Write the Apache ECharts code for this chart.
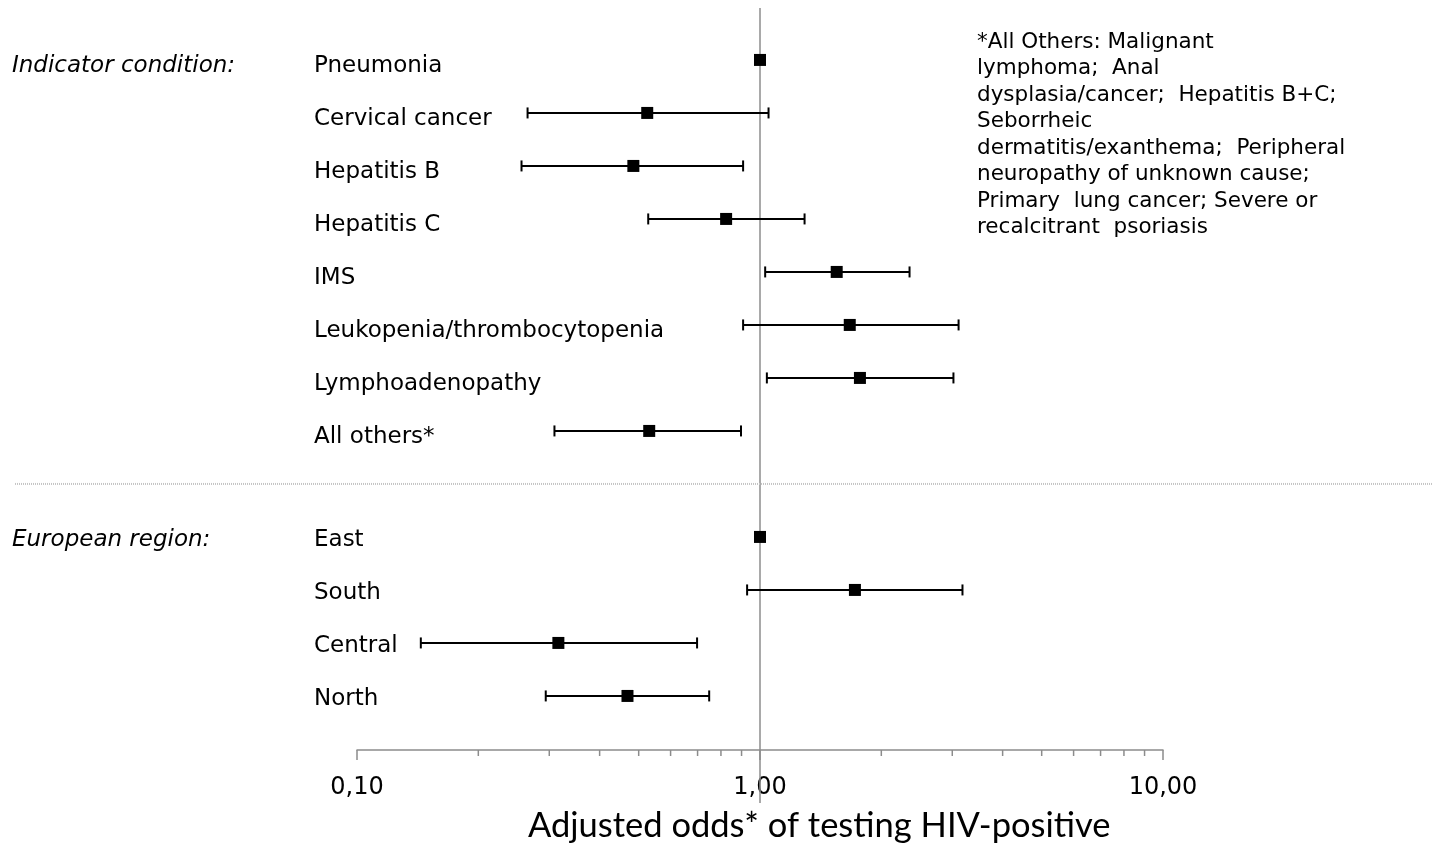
<!DOCTYPE html>
<html><head><meta charset="utf-8">
<script src="https://cdn.jsdelivr.net/npm/echarts/dist/echarts.min.js"></script>
<style>html,body{margin:0;padding:0;background:#fff}#c{width:1439px;height:843px}</style>
</head><body><div id="c"></div>
<script>
// ---- data ----
const rowLabels = ['Pneumonia', 'Cervical cancer', 'Hepatitis B', 'Hepatitis C', 'IMS',
  'Leukopenia/thrombocytopenia', 'Lymphoadenopathy', 'All others*', '',
  'East', 'South', 'Central', 'North'];
const oddsRatio = [1.00, 0.525, 0.485, 0.824, 1.55, 1.67, 1.77, 0.531, null, 1.00, 1.72, 0.316, 0.469];
const ciLower   = [null, 0.265, 0.256, 0.528, 1.03, 0.908, 1.04, 0.309, null, null, 0.929, 0.144, 0.294];
const ciUpper   = [null, 1.05, 0.908, 1.29, 2.35, 3.11, 3.02, 0.897, null, null, 3.18, 0.698, 0.748];
const sectionTitles = ['Indicator condition:', 'European region:'];
const sectionRows = [0, 9];
const separatorRow = 8;
const referenceValue = 1;
const xMinorTicks = [0.2, 0.3, 0.4, 0.5, 0.6, 0.7, 0.8, 0.9, 2, 3, 4, 5, 6, 7, 8, 9];
const noteLines = ['*All Others: Malignant', 'lymphoma;  Anal', 'dysplasia/cancer;  Hepatitis B+C;',
  'Seborrheic', 'dermatitis/exanthema;  Peripheral', 'neuropathy of unknown cause;',
  'Primary  lung cancer; Severe or', 'recalcitrant  psoriasis'];
const axisTitle = 'Adjusted odds* of testing HIV-positive';

// ---- chart ----
const FONT = 'DejaVu Sans';
const chart = echarts.init(document.getElementById('c'), null, {renderer: 'canvas'});

const ciData = [];
ciLower.forEach((lo, i) => { if (lo != null && ciUpper[i] != null) ciData.push([lo, ciUpper[i], i]); });
const pointData = [];
oddsRatio.forEach((v, i) => { if (v != null) pointData.push([v, i]); });

chart.setOption({
  animation: false,
  backgroundColor: '#fff',
  title: {
    text: axisTitle, left: 523, top: 803,
    textStyle: {fontFamily: 'Lato', fontSize: 34.5, fontWeight: 'normal', color: '#000'}
  },
  grid: {left: 357, width: 806, top: 8, height: 742},
  xAxis: {
    type: 'log', logBase: 10, min: 0.1, max: 10,
    splitLine: {show: false},
    axisLine: {onZero: false, lineStyle: {color: '#8c8c8c', width: 1.5}},
    axisTick: {inside: false, length: 10, lineStyle: {color: '#8c8c8c', width: 1.5}},
    axisLabel: {
      margin: 26, color: '#000', fontFamily: FONT, fontSize: 24,
      formatter: v => v.toFixed(2).replace('.', ',')
    }
  },
  yAxis: {type: 'value', inverse: true, min: -0.98, max: 13.02, show: false},
  graphic: [{
    type: 'text', left: 977, top: 29,
    style: {text: noteLines.join('\n'), fontFamily: FONT, fontSize: 21.5, lineHeight: 26.5, fill: '#000'}
  }],
  series: [
    { // reference line
      type: 'custom', clip: false, z: 1,
      data: [[referenceValue, 0]],
      renderItem: (params, api) => {
        const cs = params.coordSys;
        const x = api.coord([api.value(0), 0])[0];
        return {type: 'line', shape: {x1: x, y1: cs.y, x2: x, y2: cs.y + cs.height + 53},
          style: {stroke: '#8c8c8c', lineWidth: 1.5}};
      }
    },
    { // separator
      type: 'custom', clip: false, z: 1,
      data: [[referenceValue, separatorRow]],
      renderItem: (params, api) => {
        const y = api.coord([1, api.value(1)])[1];
        return {type: 'line', shape: {x1: 15, y1: y, x2: 1433, y2: y},
          style: {stroke: '#c4c4c4', lineWidth: 2, lineDash: [1, 1]}};
      }
    },
    { // minor ticks
      type: 'custom', clip: false,
      data: xMinorTicks.map(v => [v, 0]),
      renderItem: (params, api) => {
        const cs = params.coordSys;
        const x = api.coord([api.value(0), 0])[0];
        const y = cs.y + cs.height;
        return {type: 'line', shape: {x1: x, y1: y, x2: x, y2: y + 6},
          style: {stroke: '#8c8c8c', lineWidth: 1.5}};
      }
    },
    { // confidence intervals
      type: 'custom', clip: false, z: 3,
      data: ciData,
      encode: {x: [0, 1], y: 2},
      renderItem: (params, api) => {
        const a = api.coord([api.value(0), api.value(2)]);
        const b = api.coord([api.value(1), api.value(2)]);
        const h = 5.5;
        const st = {stroke: '#000', lineWidth: 2};
        return {type: 'group', children: [
          {type: 'line', shape: {x1: a[0], y1: a[1], x2: b[0], y2: b[1]}, style: st},
          {type: 'line', shape: {x1: a[0], y1: a[1] - h, x2: a[0], y2: a[1] + h}, style: st},
          {type: 'line', shape: {x1: b[0], y1: b[1] - h, x2: b[0], y2: b[1] + h}, style: st}
        ]};
      }
    },
    { // point estimates
      type: 'scatter', z: 4,
      symbol: 'rect', symbolSize: 12,
      itemStyle: {color: '#000', opacity: 1},
      data: pointData
    },
    { // row labels
      type: 'custom', clip: false,
      data: rowLabels.map((t, i) => [0.1, i]),
      renderItem: (params, api) => {
        const i = api.value(1);
        const y = api.coord([1, i])[1];
        return {type: 'text', x: 314, y: y + (i < separatorRow ? 6 : 3.5),
          style: {text: rowLabels[params.dataIndex], fontFamily: FONT, fontSize: 23,
            fill: '#000', verticalAlign: 'middle', align: 'left'}};
      }
    },
    { // section titles
      type: 'custom', clip: false,
      data: sectionRows.map(r => [0.1, r]),
      renderItem: (params, api) => {
        const i = api.value(1);
        const y = api.coord([1, i])[1];
        return {type: 'text', x: 12, y: y + (i < separatorRow ? 6 : 3.5),
          style: {text: sectionTitles[params.dataIndex], fontFamily: FONT, fontStyle: 'italic',
            fontSize: 23, fill: '#000', verticalAlign: 'middle', align: 'left'}};
      }
    }
  ]
});
</script>
</body></html>
